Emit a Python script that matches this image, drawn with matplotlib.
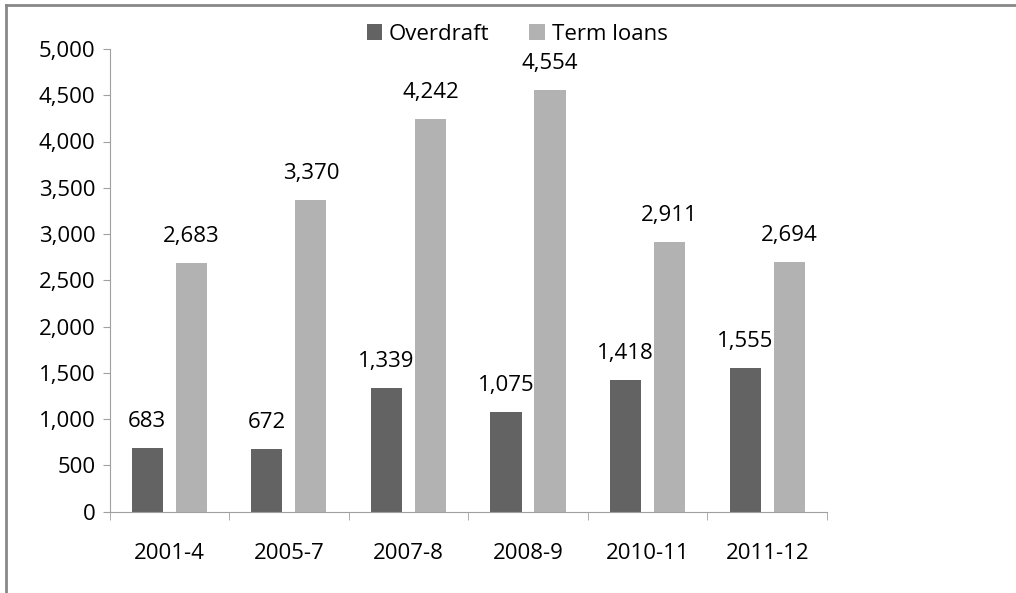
import matplotlib.pyplot as plt
from matplotlib.lines import Line2D
import numpy as np

periods = ['2001-4', '2005-7', '2007-8', '2008-9', '2010-11', '2011-12']
overdraft = [683, 672, 1339, 1075, 1418, 1555]
term_loans = [2683, 3370, 4242, 4554, 2911, 2694]

dark = '#636363'
light = '#b2b2b2'

plt.rcParams['font.family'] = ['Open Sans', 'DejaVu Sans']
plt.rcParams['font.size'] = 16

fig = plt.figure(figsize=(10.16, 5.93), dpi=100)
ax = fig.add_axes([109.5 / 1016, 1 - 511.5 / 593, (827 - 109.5) / 1016, (511.5 - 49) / 593])

x = np.arange(len(periods))
off = 0.184
w = 0.26
b1 = ax.bar(x - off, overdraft, w, color=dark, label='Overdraft')
b2 = ax.bar(x + off, term_loans, w, color=light, label='Term loans')

for bars, vals in [(b1, overdraft), (b2, term_loans)]:
    for r, v in zip(bars, vals):
        ax.annotate(f'{v:,}', (r.get_x() + r.get_width() / 2, v),
                    xytext=(0, 19), textcoords='offset points',
                    ha='center', va='center')

ax.set_xlim(-0.5, len(periods) - 0.5)
ax.set_ylim(0, 5000)
ax.set_yticks(range(0, 5001, 500))
ax.set_yticklabels([f'{v:,}' for v in range(0, 5001, 500)])
ax.set_xticks(x)
ax.set_xticklabels(periods)
ax.set_xticks(np.arange(-0.5, len(periods), 1), minor=True)
ax.tick_params(axis='x', which='major', length=0, pad=23)
ax.tick_params(axis='x', which='minor', length=6, color='#a0a0a0')
ax.tick_params(axis='y', length=5, color='#a0a0a0', pad=5)
for s in ['top', 'right']:
    ax.spines[s].set_visible(False)
for s in ['left', 'bottom']:
    ax.spines[s].set_color('#a0a0a0')

ax.legend(loc='center', bbox_to_anchor=(517 / 1016, 1 - 34 / 593), bbox_transform=fig.transFigure,
          ncol=2, frameon=False, handlelength=0.7, handleheight=0.7,
          handletextpad=0.3, columnspacing=1.8, borderpad=0)

fig.add_artist(Line2D([6 / 1016, 6 / 1016], [0, 1 - 5 / 593], color='#888888', lw=2))
fig.add_artist(Line2D([6 / 1016, 1], [1 - 5 / 593, 1 - 5 / 593], color='#888888', lw=2))

fig.savefig('out.png', dpi=100)
